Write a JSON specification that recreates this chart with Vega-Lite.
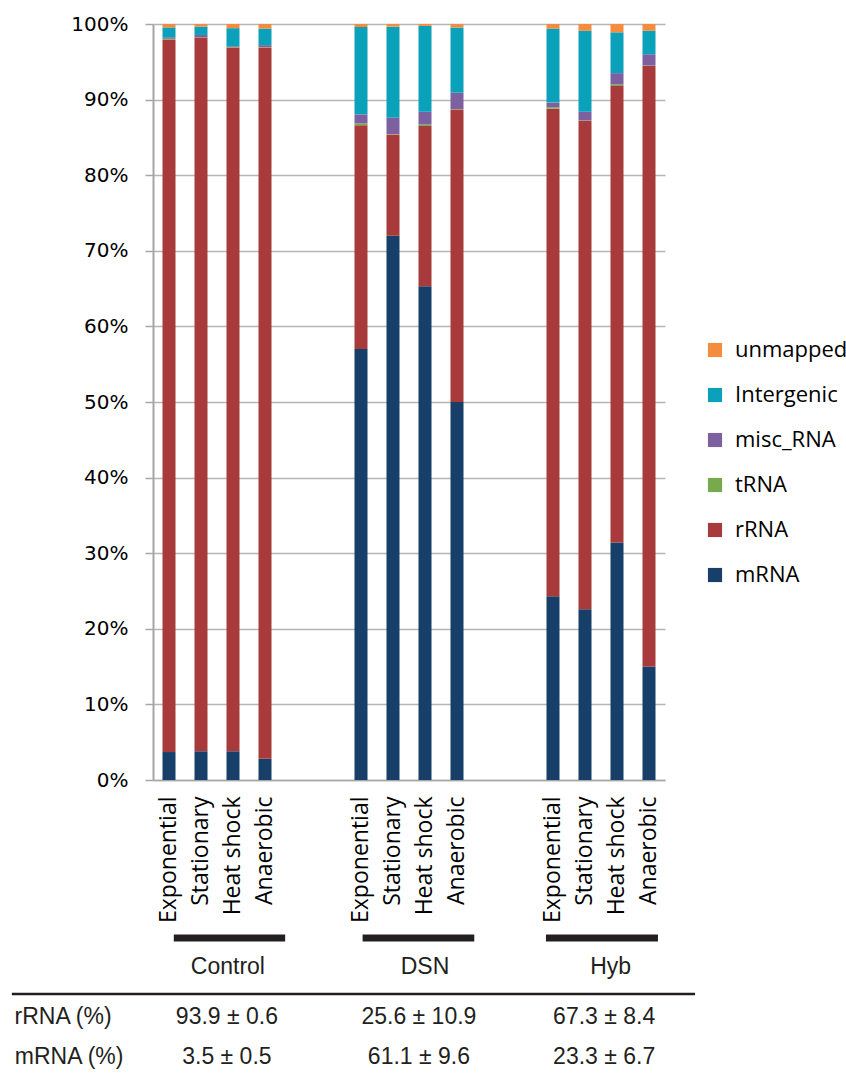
{
  "$schema": "https://vega.github.io/schema/vega-lite/v6.json",
  "padding": {"left": 10, "top": 14, "right": 0, "bottom": 0},
  "config": {"view": {"stroke": null}},
  "width": 512,
  "height": 756,
  "resolve": {"scale": {"x": "independent"}},
  "layer": [
    {
      "data": {"values": [
        {"slot": "Exponential", "type": "mRNA", "k": 1, "pct": 3.7},
        {"slot": "Exponential", "type": "rRNA", "k": 2, "pct": 94.2},
        {"slot": "Exponential", "type": "tRNA", "k": 3, "pct": 0.15},
        {"slot": "Exponential", "type": "misc_RNA", "k": 4, "pct": 0.2},
        {"slot": "Exponential", "type": "Intergenic", "k": 5, "pct": 1.3},
        {"slot": "Exponential", "type": "unmapped", "k": 6, "pct": 0.45},
        {"slot": "Stationary", "type": "mRNA", "k": 1, "pct": 3.8},
        {"slot": "Stationary", "type": "rRNA", "k": 2, "pct": 94.4},
        {"slot": "Stationary", "type": "tRNA", "k": 3, "pct": 0.05},
        {"slot": "Stationary", "type": "misc_RNA", "k": 4, "pct": 0.3},
        {"slot": "Stationary", "type": "Intergenic", "k": 5, "pct": 1.1},
        {"slot": "Stationary", "type": "unmapped", "k": 6, "pct": 0.35},
        {"slot": "Heat shock", "type": "mRNA", "k": 1, "pct": 3.8},
        {"slot": "Heat shock", "type": "rRNA", "k": 2, "pct": 93.1},
        {"slot": "Heat shock", "type": "tRNA", "k": 3, "pct": 0.05},
        {"slot": "Heat shock", "type": "misc_RNA", "k": 4, "pct": 0.1},
        {"slot": "Heat shock", "type": "Intergenic", "k": 5, "pct": 2.4},
        {"slot": "Heat shock", "type": "unmapped", "k": 6, "pct": 0.55},
        {"slot": "Anaerobic", "type": "mRNA", "k": 1, "pct": 2.8},
        {"slot": "Anaerobic", "type": "rRNA", "k": 2, "pct": 94.1},
        {"slot": "Anaerobic", "type": "tRNA", "k": 3, "pct": 0.05},
        {"slot": "Anaerobic", "type": "misc_RNA", "k": 4, "pct": 0.25},
        {"slot": "Anaerobic", "type": "Intergenic", "k": 5, "pct": 2.2},
        {"slot": "Anaerobic", "type": "unmapped", "k": 6, "pct": 0.6},
        {"slot": " Exponential", "type": "mRNA", "k": 1, "pct": 57.0},
        {"slot": " Exponential", "type": "rRNA", "k": 2, "pct": 29.6},
        {"slot": " Exponential", "type": "tRNA", "k": 3, "pct": 0.25},
        {"slot": " Exponential", "type": "misc_RNA", "k": 4, "pct": 1.2},
        {"slot": " Exponential", "type": "Intergenic", "k": 5, "pct": 11.55},
        {"slot": " Exponential", "type": "unmapped", "k": 6, "pct": 0.4},
        {"slot": " Stationary", "type": "mRNA", "k": 1, "pct": 72.0},
        {"slot": " Stationary", "type": "rRNA", "k": 2, "pct": 13.4},
        {"slot": " Stationary", "type": "tRNA", "k": 3, "pct": 0.05},
        {"slot": " Stationary", "type": "misc_RNA", "k": 4, "pct": 2.15},
        {"slot": " Stationary", "type": "Intergenic", "k": 5, "pct": 12.05},
        {"slot": " Stationary", "type": "unmapped", "k": 6, "pct": 0.35},
        {"slot": " Heat shock", "type": "mRNA", "k": 1, "pct": 65.3},
        {"slot": " Heat shock", "type": "rRNA", "k": 2, "pct": 21.2},
        {"slot": " Heat shock", "type": "tRNA", "k": 3, "pct": 0.2},
        {"slot": " Heat shock", "type": "misc_RNA", "k": 4, "pct": 1.7},
        {"slot": " Heat shock", "type": "Intergenic", "k": 5, "pct": 11.35},
        {"slot": " Heat shock", "type": "unmapped", "k": 6, "pct": 0.25},
        {"slot": " Anaerobic", "type": "mRNA", "k": 1, "pct": 50.0},
        {"slot": " Anaerobic", "type": "rRNA", "k": 2, "pct": 38.7},
        {"slot": " Anaerobic", "type": "tRNA", "k": 3, "pct": 0.05},
        {"slot": " Anaerobic", "type": "misc_RNA", "k": 4, "pct": 2.15},
        {"slot": " Anaerobic", "type": "Intergenic", "k": 5, "pct": 8.65},
        {"slot": " Anaerobic", "type": "unmapped", "k": 6, "pct": 0.45},
        {"slot": "  Exponential", "type": "mRNA", "k": 1, "pct": 24.3},
        {"slot": "  Exponential", "type": "rRNA", "k": 2, "pct": 64.5},
        {"slot": "  Exponential", "type": "tRNA", "k": 3, "pct": 0.2},
        {"slot": "  Exponential", "type": "misc_RNA", "k": 4, "pct": 0.6},
        {"slot": "  Exponential", "type": "Intergenic", "k": 5, "pct": 9.8},
        {"slot": "  Exponential", "type": "unmapped", "k": 6, "pct": 0.6},
        {"slot": "  Stationary", "type": "mRNA", "k": 1, "pct": 22.6},
        {"slot": "  Stationary", "type": "rRNA", "k": 2, "pct": 64.6},
        {"slot": "  Stationary", "type": "tRNA", "k": 3, "pct": 0.05},
        {"slot": "  Stationary", "type": "misc_RNA", "k": 4, "pct": 1.15},
        {"slot": "  Stationary", "type": "Intergenic", "k": 5, "pct": 10.7},
        {"slot": "  Stationary", "type": "unmapped", "k": 6, "pct": 0.9},
        {"slot": "  Heat shock", "type": "mRNA", "k": 1, "pct": 31.4},
        {"slot": "  Heat shock", "type": "rRNA", "k": 2, "pct": 60.4},
        {"slot": "  Heat shock", "type": "tRNA", "k": 3, "pct": 0.2},
        {"slot": "  Heat shock", "type": "misc_RNA", "k": 4, "pct": 1.5},
        {"slot": "  Heat shock", "type": "Intergenic", "k": 5, "pct": 5.4},
        {"slot": "  Heat shock", "type": "unmapped", "k": 6, "pct": 1.1},
        {"slot": "  Anaerobic", "type": "mRNA", "k": 1, "pct": 15.0},
        {"slot": "  Anaerobic", "type": "rRNA", "k": 2, "pct": 79.45},
        {"slot": "  Anaerobic", "type": "tRNA", "k": 3, "pct": 0.05},
        {"slot": "  Anaerobic", "type": "misc_RNA", "k": 4, "pct": 1.5},
        {"slot": "  Anaerobic", "type": "Intergenic", "k": 5, "pct": 3.1},
        {"slot": "  Anaerobic", "type": "unmapped", "k": 6, "pct": 0.9}
      ]},
      "mark": {"type": "bar", "size": 13},
      "encoding": {
        "x": {
          "field": "slot",
          "type": "nominal",
          "scale": {
            "domain": ["Exponential", "Stationary", "Heat shock", "Anaerobic", "   ", "    ",
                       " Exponential", " Stationary", " Heat shock", " Anaerobic", "     ", "      ",
                       "  Exponential", "  Stationary", "  Heat shock", "  Anaerobic"],
            "paddingInner": 0,
            "paddingOuter": 0
          },
          "axis": {
            "title": null,
            "labelAngle": -90,
            "ticks": false,
            "domainColor": "#a6a6a6",
            "domainWidth": 1.5,
            "labelFont": "Open Sans",
            "labelFontSize": 23,
            "labelColor": "#000000",
            "labelPadding": 16,
            "grid": false
          }
        },
        "y": {
          "field": "pct",
          "type": "quantitative",
          "stack": "normalize",
          "scale": {"domain": [0, 1]},
          "axis": {
            "title": null,
            "format": ".0%",
            "values": [0, 0.1, 0.2, 0.3, 0.4, 0.5, 0.6, 0.7, 0.8, 0.9, 1],
            "grid": true,
            "gridColor": "#b5b5b5",
            "gridWidth": 1.5,
            "tickSize": 8,
            "tickColor": "#a6a6a6",
            "tickWidth": 1.5,
            "domainColor": "#a6a6a6",
            "domainWidth": 2,
            "labelFont": "DejaVu Sans",
            "labelFontSize": 20,
            "labelColor": "#000000",
            "labelPadding": 17
          }
        },
        "color": {
          "field": "type",
          "type": "nominal",
          "scale": {
            "domain": ["unmapped", "Intergenic", "misc_RNA", "tRNA", "rRNA", "mRNA"],
            "range": ["#f58b3f", "#0ca1bb", "#7d60a0", "#77aa4c", "#a93a3b", "#173f69"]
          },
          "legend": {
            "title": null,
            "orient": "none",
            "legendX": 551,
            "legendY": 315,
            "symbolType": "square",
            "symbolSize": 200,
            "labelFont": "Open Sans",
            "labelFontSize": 22,
            "labelColor": "#000000",
            "labelOffset": 9,
            "rowPadding": 23
          }
        },
        "order": {"field": "k", "type": "quantitative"}
      }
    },
    {
      "data": {"values": [
        {"group": "Control", "start": 0.65, "end": 4.13},
        {"group": "DSN", "start": 6.55, "end": 10.04},
        {"group": "Hyb", "start": 12.28, "end": 15.78}
      ]},
      "mark": {"type": "rule", "strokeWidth": 7, "color": "#231f20"},
      "encoding": {
        "x": {"field": "start", "type": "quantitative", "scale": {"domain": [0, 16], "nice": false, "zero": false}, "axis": null},
        "x2": {"field": "end"},
        "y": {"datum": -0.209, "type": "quantitative"}
      }
    },
    {
      "data": {"values": [
        {"group": "Control", "mid": 2.34},
        {"group": "DSN", "mid": 8.5},
        {"group": "Hyb", "mid": 14.3}
      ]},
      "mark": {"type": "text", "font": "Liberation Sans", "fontSize": 23, "color": "#231f20", "align": "center", "baseline": "middle"},
      "encoding": {
        "x": {"field": "mid", "type": "quantitative", "scale": {"domain": [0, 16], "nice": false, "zero": false}, "axis": null},
        "y": {"datum": -0.2474, "type": "quantitative"},
        "text": {"field": "group"}
      }
    },
    {
      "data": {"values": [{"rule": "divider"}]},
      "mark": {"type": "rule", "strokeWidth": 2.5, "color": "#231f20"},
      "encoding": {
        "x": {"datum": -4.41, "type": "quantitative", "scale": {"domain": [0, 16], "nice": false, "zero": false}, "axis": null},
        "x2": {"datum": 16.94},
        "y": {"datum": -0.283, "type": "quantitative"}
      }
    },
    {
      "data": {"values": [
        {"label": "rRNA (%)", "pos": -2.81},
        {"label": "93.9 ± 0.6", "pos": 2.31},
        {"label": "25.6 ± 10.9", "pos": 8.31},
        {"label": "67.3 ± 8.4", "pos": 14.1}
      ]},
      "mark": {"type": "text", "font": "Liberation Sans", "fontSize": 23, "color": "#231f20", "align": "center", "baseline": "middle"},
      "encoding": {
        "x": {"field": "pos", "type": "quantitative", "scale": {"domain": [0, 16], "nice": false, "zero": false}, "axis": null},
        "y": {"datum": -0.3135, "type": "quantitative"},
        "text": {"field": "label"}
      }
    },
    {
      "data": {"values": [
        {"label": "mRNA (%)", "pos": -2.62},
        {"label": "3.5 ± 0.5", "pos": 2.31},
        {"label": "61.1 ± 9.6", "pos": 8.31},
        {"label": "23.3 ± 6.7", "pos": 14.1}
      ]},
      "mark": {"type": "text", "font": "Liberation Sans", "fontSize": 23, "color": "#231f20", "align": "center", "baseline": "middle"},
      "encoding": {
        "x": {"field": "pos", "type": "quantitative", "scale": {"domain": [0, 16], "nice": false, "zero": false}, "axis": null},
        "y": {"datum": -0.3664, "type": "quantitative"},
        "text": {"field": "label"}
      }
    }
  ]
}
